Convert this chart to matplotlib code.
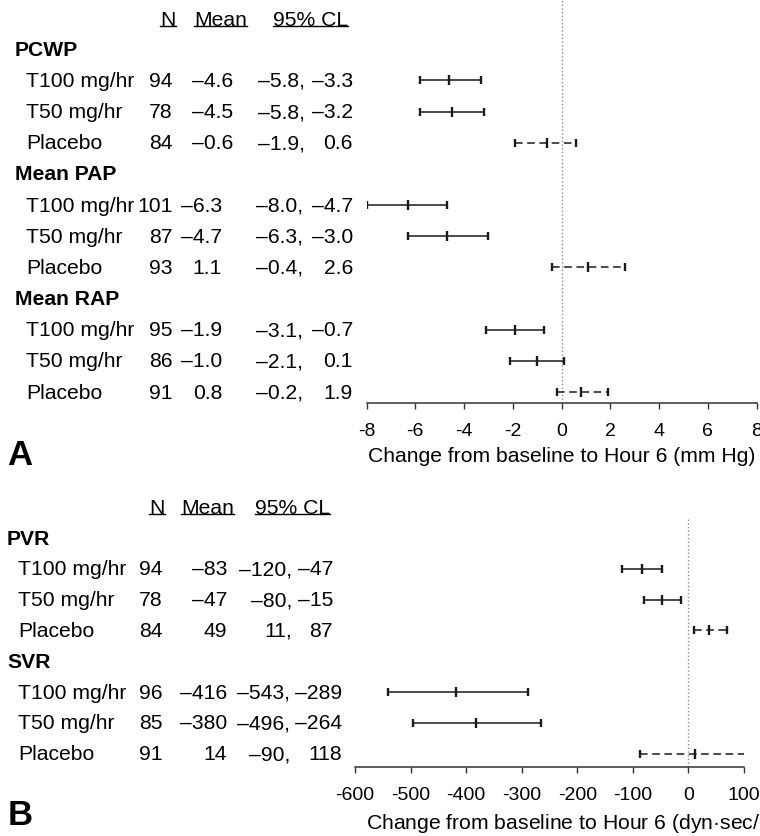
import matplotlib
matplotlib.use('Agg')
import matplotlib.pyplot as plt
from matplotlib.lines import Line2D
from matplotlib.transforms import blended_transform_factory

plt.rcParams['font.family'] = ['Liberation Sans', 'DejaVu Sans']
plt.rcParams['mathtext.fontset'] = 'custom'
plt.rcParams['mathtext.rm'] = 'Liberation Sans'
plt.rcParams['axes.unicode_minus'] = False

arms = ["T100 mg/hr", "T50 mg/hr", "Placebo"]
headers = ["N", "Mean", "95% CL"]

# Panel A: pressures (mm Hg)
groups_a = ["PCWP", "Mean PAP", "Mean RAP"]
n_a = ["94", "78", "84", "101", "87", "93", "95", "86", "91"]
mean_txt_a = ["–4.6", "–4.5", "–0.6", "–6.3", "–4.7", "1.1", "–1.9", "–1.0", "0.8"]
cl_lo_txt_a = ["–5.8,", "–5.8,", "–1.9,", "–8.0,", "–6.3,", "–0.4,", "–3.1,", "–2.1,", "–0.2,"]
cl_hi_txt_a = ["–3.3", "–3.2", "0.6", "–4.7", "–3.0", "2.6", "–0.7", "0.1", "1.9"]
mean_a = [-4.6, -4.5, -0.6, -6.3, -4.7, 1.1, -1.9, -1.0, 0.8]
lo_a = [-5.8, -5.8, -1.9, -8.0, -6.3, -0.4, -3.1, -2.1, -0.2]
hi_a = [-3.3, -3.2, 0.6, -4.7, -3.0, 2.6, -0.7, 0.1, 1.9]
ticks_a = [-8, -6, -4, -2, 0, 2, 4, 6, 8]

# Panel B: resistances (dyn*sec/cm5)
groups_b = ["PVR", "SVR"]
n_b = ["94", "78", "84", "96", "85", "91"]
mean_txt_b = ["–83", "–47", "49", "–416", "–380", "14"]
cl_lo_txt_b = ["–120,", "–80,", "11,", "–543,", "–496,", "–90,"]
cl_hi_txt_b = ["–47", "–15", "87", "–289", "–264", "118"]
# bars as drawn in the figure
mean_b = [-83, -47, 37, -418, -382, 12]
lo_b = [-119, -80, 10, -541, -496, -87]
hi_b = [-48, -13, 70, -289, -265, 118]
ticks_b = [-600, -500, -400, -300, -200, -100, 0, 100]

W, H = 760, 837
BAR_COLOR = '#1a1a1a'
FS = 15.2
header_texts = []


def draw_bars(ax, means, los, his):
    for i in range(len(means)):
        y = (i // 3) * 4 + 1 + i % 3
        err = [[means[i] - los[i]], [his[i] - means[i]]]
        eb = ax.errorbar(means[i], y, xerr=err, fmt='|', ms=6.5, mew=1.7,
                         color=BAR_COLOR, ecolor=BAR_COLOR, elinewidth=1.1,
                         capsize=3.2, capthick=1.7)
        if i % 3 == 2:  # placebo is dashed
            eb[2][0].set_linestyle((0, (5, 3)))


def draw_table(ax, groups, cols, n, mean_txt, lo_txt, hi_txt, header_y):
    trans = blended_transform_factory(fig.transFigure, ax.transData)
    x_group, x_arm, x_n, x_mean, x_lo, x_hi, x_head = cols
    for g, name in enumerate(groups):
        ax.text(x_group / W, g * 4, name, transform=trans, fontsize=FS,
                fontweight='bold', va='center', ha='left')
        for j, arm in enumerate(arms):
            i = g * 3 + j
            y = g * 4 + 1 + j
            ax.text(x_arm / W, y, arm, transform=trans, fontsize=FS, va='center', ha='left')
            ax.text(x_n / W, y, n[i], transform=trans, fontsize=FS, va='center', ha='right')
            ax.text(x_mean[g] / W, y, mean_txt[i], transform=trans, fontsize=FS, va='center', ha='right')
            ax.text(x_lo[g] / W, y, lo_txt[i], transform=trans, fontsize=FS, va='center', ha='right')
            ax.text(x_hi[g] / W, y, hi_txt[i], transform=trans, fontsize=FS, va='center', ha='right')
    for label, hx, ha in zip(headers, x_head, ['center', 'left', 'left']):
        t = ax.text(hx / W, header_y, label, transform=trans, fontsize=FS, va='center', ha=ha)
        header_texts.append(t)


def style_axis(ax, ticks, xlim, ylim):
    ax.axvline(0, color='#8c8c8c', lw=1, ls=':', zorder=0)
    ax.set_xlim(xlim)
    ax.set_ylim(ylim)
    ax.set_xticks(ticks)
    ax.set_xticklabels([str(t) for t in ticks])
    ax.set_yticks([])
    for side in ['top', 'left', 'right']:
        ax.spines[side].set_visible(False)
    ax.spines['bottom'].set_color('#333333')
    ax.spines['bottom'].set_linewidth(1.1)
    ax.tick_params(axis='x', direction='out', length=4.5, width=1, labelsize=14,
                   pad=9, color='#333333')
    ax.patch.set_alpha(0)


fig = plt.figure(figsize=(7.6, 8.37), dpi=100)

ax_a = fig.add_axes([366.5 / W, 1 - 404 / H, 390 / W, 404 / H])
ax_b = fig.add_axes([355 / W, 1 - 768 / H, 389 / W, 249 / H])

draw_bars(ax_a, mean_a, lo_a, hi_a)
style_axis(ax_a, ticks_a, (-8, 8), (11.35, -1.61))
draw_table(ax_a, groups_a,
           (15, 26, 173, [233, 222, 222], [305, 303, 303], [353, 353, 353], (168, 194, 273)),
           n_a, mean_txt_a, cl_lo_txt_a, cl_hi_txt_a, -0.96)

draw_bars(ax_b, mean_b, lo_b, hi_b)
style_axis(ax_b, ticks_b, (-600, 100), (7.43, -0.65))
draw_table(ax_b, groups_b,
           (7, 18, 163, [227, 227], [292, 290], [333, 342], (157, 181, 255)),
           n_b, mean_txt_b, cl_lo_txt_b, cl_hi_txt_b, -1.0)

fig.text(368 / W, 1 - 457 / H, 'Change from baseline to Hour 6 (mm Hg)', fontsize=FS, va='center')
fig.text(366 / W, 1 - 823 / H, 'Change from baseline to Hour 6 (dyn·sec/cm$^5$)', fontsize=FS, va='center')
fig.text(7 / W, 1 - 456 / H, 'A', fontsize=25, fontweight='bold', va='center')
fig.text(8 / W, 1 - 816 / H, 'B', fontsize=25, fontweight='bold', va='center')

# underline the column headers
fig.canvas.draw()
renderer = fig.canvas.get_renderer()
for t in header_texts:
    bb = t.get_window_extent(renderer)
    y = bb.y0 + 2.5
    fig.add_artist(Line2D([bb.x0 / W, bb.x1 / W], [y / H, y / H], color='black', lw=1))

plt.savefig('out.png', dpi=100)
